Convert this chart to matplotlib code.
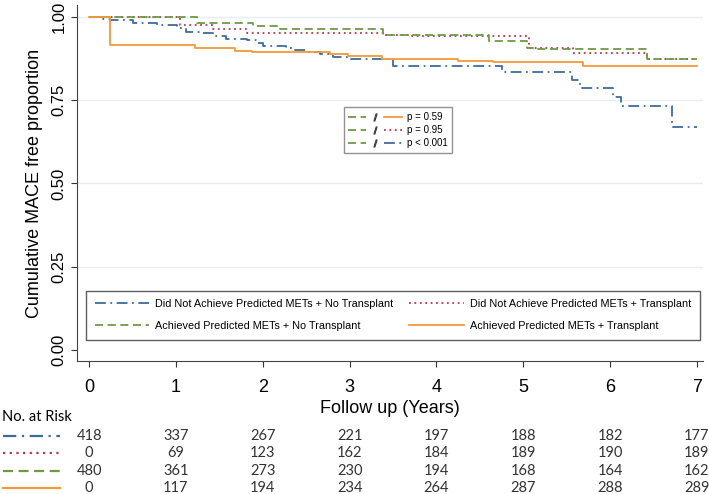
import matplotlib
matplotlib.use('Agg')
import matplotlib.pyplot as plt
from matplotlib.lines import Line2D
from matplotlib.legend_handler import HandlerTuple
from matplotlib.transforms import blended_transform_factory

plt.rcParams['font.family'] = ['Liberation Sans', 'DejaVu Sans']

# KM curves
t_blue = [0, 0.16, 0.24, 0.51, 0.78, 1.01, 1.12, 1.28, 1.43, 1.58, 1.82, 1.93, 2.0, 2.27, 2.35,
          2.51, 2.66, 2.81, 3.0, 3.5, 4.75, 5.56, 5.65, 6.03, 6.13, 6.71, 7.0]
s_blue = [1.0, 0.995, 0.991, 0.983, 0.976, 0.966, 0.956, 0.951, 0.943, 0.933, 0.931, 0.923, 0.913,
          0.908, 0.901, 0.896, 0.889, 0.880, 0.873, 0.852, 0.835, 0.81, 0.788, 0.76, 0.732, 0.670, 0.670]
t_red = [0, 1.05, 1.43, 1.82, 3.4, 3.7, 5.07, 5.57, 6.42, 7.0]
s_red = [1.0, 0.976, 0.963, 0.951, 0.946, 0.943, 0.908, 0.893, 0.873, 0.873]
t_green = [0, 1.24, 1.89, 2.2, 3.39, 4.61, 5.04, 5.15, 6.42, 7.0]
s_green = [1.0, 0.981, 0.973, 0.963, 0.946, 0.928, 0.908, 0.903, 0.873, 0.873]
t_orange = [0, 0.24, 1.22, 1.68, 1.87, 2.77, 2.98, 3.37, 4.25, 4.65, 5.69, 7.0]
s_orange = [1.0, 0.916, 0.906, 0.898, 0.894, 0.889, 0.883, 0.873, 0.869, 0.864, 0.852, 0.852]

labels = ['Did Not Achieve Predicted METs + No Transplant',
          'Did Not Achieve Predicted METs + Transplant',
          'Achieved Predicted METs + No Transplant',
          'Achieved Predicted METs + Transplant']
p_labels = ['p = 0.59', 'p = 0.95', 'p < 0.001']

years = [0, 1, 2, 3, 4, 5, 6, 7]
risk_blue = [418, 337, 267, 221, 197, 188, 182, 177]
risk_red = [0, 69, 123, 162, 184, 189, 190, 189]
risk_green = [480, 361, 273, 230, 194, 168, 164, 162]
risk_orange = [0, 117, 194, 234, 264, 287, 288, 289]

c_blue = '#3f6b9c'
c_red = '#b3394b'
c_green = '#6e9a45'
c_orange = '#f29a38'
ls_blue = (0, (6, 2.5, 1, 2.5))
ls_red = (0, (1, 2))
ls_green = (0, (4.5, 2.5))
ls_orange = '-'
lw = 1.3

fig = plt.figure(figsize=(7.09, 4.94), dpi=100)
ax = fig.add_axes([77 / 709, 133 / 494, 626 / 709, 356 / 494])

ax.step(t_blue, s_blue, where='post', color=c_blue, ls=ls_blue, lw=lw)
ax.step(t_red, s_red, where='post', color=c_red, ls=ls_red, lw=lw)
ax.step(t_green, s_green, where='post', color=c_green, ls=ls_green, lw=lw)
ax.step(t_orange, s_orange, where='post', color=c_orange, ls=ls_orange, lw=lw)

ax.set_xlim(-0.14, 7.07)
ax.set_ylim(-0.033, 1.036)
ax.set_yticks([0, 0.25, 0.5, 0.75, 1.0])
ax.set_yticklabels(['0.00', '0.25', '0.50', '0.75', '1.00'], rotation=90, va='center', fontsize=12)
ax.set_xticks(years)
ax.tick_params(axis='x', labelsize=13, length=4, pad=9, color='#333333')
ax.tick_params(axis='y', length=4, color='#333333')
for y in [0.25, 0.5, 0.75, 1.0]:
    ax.axhline(y, color='#e4edf1', lw=1, zorder=0)
ax.spines['top'].set_visible(False)
ax.spines['right'].set_visible(False)
ax.spines['left'].set_color('#444444')
ax.spines['bottom'].set_color('#444444')
ax.set_ylabel('Cumulative MACE free proportion', fontsize=13, labelpad=6)
ax.set_xlabel('Follow up (Years)', fontsize=13, labelpad=3)

h_blue = Line2D([], [], color=c_blue, ls=ls_blue, lw=lw)
h_red = Line2D([], [], color=c_red, ls=ls_red, lw=lw)
h_green = Line2D([], [], color=c_green, ls=ls_green, lw=lw)
h_orange = Line2D([], [], color=c_orange, ls=ls_orange, lw=lw)

leg = ax.legend([h_blue, h_green, h_red, h_orange], [labels[0], labels[2], labels[1], labels[3]],
                ncol=2, loc='lower left', bbox_to_anchor=(0.0144, 0.0595, 0.9808, 0.16),
                mode='expand', frameon=True, fancybox=False, edgecolor='#333333',
                handlelength=5.0, handletextpad=0.6, borderaxespad=0, labelspacing=1.1,
                columnspacing=1.0, borderpad=0.8, prop={'family': 'Liberation Sans', 'size': 7.8})
leg.get_frame().set_linewidth(1.0)
ax.add_artist(leg)

slash = Line2D([], [], marker='$/$', ls='none', color='#444444', markersize=5)
h_g2 = Line2D([], [], color=c_green, ls=ls_green, lw=lw)
p_handles = [(h_g2, slash, h_orange), (h_g2, slash, h_red), (h_g2, slash, h_blue)]
pleg = ax.legend(p_handles, p_labels, loc='upper left', bbox_to_anchor=(0.418, 0.726),
                 handler_map={tuple: HandlerTuple(ndivide=None, pad=0)},
                 handlelength=5.5, fontsize=7, frameon=True, fancybox=False,
                 edgecolor='#777777', labelspacing=0.3, borderpad=0.5, handletextpad=0.5)
pleg.get_frame().set_linewidth(1.0)

# number at risk table
tr = blended_transform_factory(ax.transData, fig.transFigure)
fig.text(0.003, 1 - 417 / 494, 'No. at Risk', fontsize=10.5, family='Lato', va='center')
rows = [(risk_blue, c_blue, ls_blue), (risk_red, c_red, ls_red),
        (risk_green, c_green, ls_green), (risk_orange, c_orange, ls_orange)]
row_y = [436, 453, 471, 488]
for (vals, col, ls), py in zip(rows, row_y):
    fy = 1 - py / 494
    fig.add_artist(Line2D([3 / 709, 60 / 709], [fy, fy], color=col, ls=ls, lw=1.6))
    for x, v in zip(years, vals):
        ax.text(x, fy, str(v), transform=tr, ha='center', va='center', fontsize=10.5,
                family='Lato', color='#333333')

plt.savefig('out.png', dpi=100)
